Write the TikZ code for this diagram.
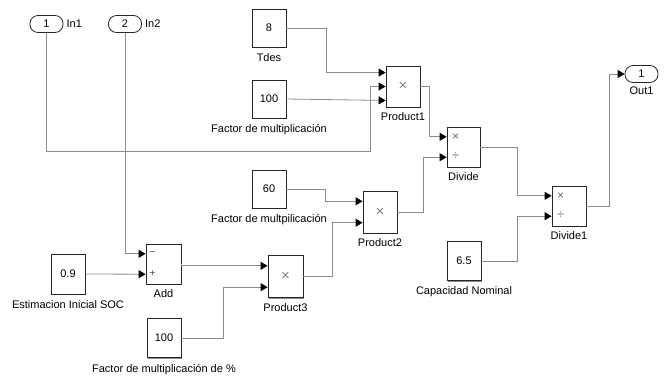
\documentclass[tikz,border=0pt]{standalone}
\usepackage{fontspec}
\setmainfont{Liberation Sans}
\usetikzlibrary{arrows.meta,calc,shadows}
\begin{document}
\begin{tikzpicture}[x=1pt,y=-1pt,
  blk/.style={draw=black!85,line width=0.8pt,fill=white,inner sep=0pt,
    drop shadow={shadow xshift=1.2pt,shadow yshift=-1.2pt,opacity=0.45,fill=black},
    font=\fontsize{11}{12}\selectfont},
  pill/.style={draw=black!85,line width=0.8pt,fill=white,rounded corners=8pt,
    minimum width=33pt,minimum height=17pt,inner sep=0pt,
    font=\fontsize{11}{12}\selectfont},
  lbl/.style={inner sep=0pt,font=\fontsize{11}{12}\selectfont},
  sym/.style={inner sep=0pt,text=black!60,font=\fontsize{12}{12}\selectfont},
  bigsym/.style={inner sep=0pt,text=black!50,font=\fontsize{15}{15}\selectfont},
  wire/.style={draw=black!45,line width=0.8pt,-{Triangle[length=7pt,width=8pt,color=black]}},
]
\useasboundingbox (0,0) rectangle (669,381);

% inports / outport
\node[pill] (in1) at (46.5,24) {1};
\node[lbl,anchor=west] (in1l) at ($(in1.east)+(3,0)$) {In1};
\node[pill] (in2) at (125,24) {2};
\node[lbl,anchor=west] (in2l) at ($(in2.east)+(3,0)$) {In2};
\node[pill] (out1) at (641.5,74) {1};
\node[lbl,anchor=north] (out1l) at ($(out1.south)+(0,4)$) {Out1};

% constants
\node[blk,minimum width=34pt,minimum height=38pt] (c8) at (269,28) {8};
\node[lbl,anchor=north] (c8l) at ($(c8.south)+(0,6)$) {Tdes};
\node[blk,minimum width=34pt,minimum height=38pt] (c100a) at (269,99) {100};
\node[lbl,anchor=north] (c100al) at ($(c100a.south)+(0,6)$) {Factor de multiplicación};
\node[blk,minimum width=34pt,minimum height=38pt] (c60) at (269,189) {60};
\node[lbl,anchor=north] (c60l) at ($(c60.south)+(0,6)$) {Factor de multpilicación};
\node[blk,minimum width=34pt,minimum height=40pt] (c09) at (68,274) {0.9};
\node[lbl,anchor=north] (c09l) at ($(c09.south)+(0,6)$) {Estimacion Inicial SOC};
\node[blk,minimum width=34pt,minimum height=39pt] (c100b) at (164,338) {100};
\node[lbl,anchor=north] (c100bl) at ($(c100b.south)+(0,6)$) {Factor de multiplicación de \%};
\node[blk,minimum width=34pt,minimum height=39pt] (c65) at (464,261) {6.5};
\node[lbl,anchor=north] (c65l) at ($(c65.south)+(0,5)$) {Capacidad Nominal};

% operation blocks
\node[blk,minimum width=34pt,minimum height=41pt] (p1) at (403,86.5) {};
\node[bigsym] (p1s) at (p1.center) {×};
\node[lbl,anchor=north] (p1l) at ($(p1.south)+(0,5)$) {Product1};

\node[blk,minimum width=33pt,minimum height=40pt] (dv) at (463.5,147) {};
\node[sym] (dvs1) at ($(dv.north west)+(9,10.5)$) {×};
\node[sym] (dvs2) at ($(dv.north west)+(9,30)$) {÷};
\node[lbl,anchor=north] (dvl) at ($(dv.south)+(0,5)$) {Divide};

\node[blk,minimum width=34pt,minimum height=40pt] (dv1) at (569,206) {};
\node[sym] (dv1s1) at ($(dv1.north west)+(9,10.5)$) {×};
\node[sym] (dv1s2) at ($(dv1.north west)+(9,30)$) {÷};
\node[lbl,anchor=north] (dv1l) at ($(dv1.south)+(0,5)$) {Divide1};

\node[blk,minimum width=34pt,minimum height=42pt] (p2) at (380,212) {};
\node[bigsym] (p2s) at (p2.center) {×};
\node[lbl,anchor=north] (p2l) at ($(p2.south)+(0,5)$) {Product2};

\node[blk,minimum width=35pt,minimum height=42pt] (p3) at (285.5,276.5) {};
\node[bigsym] (p3s) at (p3.center) {×};
\node[lbl,anchor=north] (p3l) at ($(p3.south)+(0,5)$) {Product3};

\node[blk,minimum width=35pt,minimum height=40pt] (add) at (163.5,264) {};
\node[sym,text=black!75,font=\fontsize{10}{10}\selectfont] (adds1) at ($(add.north west)+(7,10)$) {−};
\node[sym,text=black!75,font=\fontsize{10}{10}\selectfont] (adds2) at ($(add.north west)+(7,30)$) {+};
\node[lbl,anchor=north] (addl) at ($(add.south)+(0,5)$) {Add};

% input ports
\coordinate (p1i1) at ($(p1.north west)!1/6!(p1.south west)$);
\coordinate (p1i2) at ($(p1.north west)!1/2!(p1.south west)$);
\coordinate (p1i3) at ($(p1.north west)!5/6!(p1.south west)$);
\coordinate (dvi1) at ($(dv.north west)!1/4!(dv.south west)$);
\coordinate (dvi2) at ($(dv.north west)!3/4!(dv.south west)$);
\coordinate (dv1i1) at ($(dv1.north west)!1/4!(dv1.south west)$);
\coordinate (dv1i2) at ($(dv1.north west)!3/4!(dv1.south west)$);
\coordinate (p2i1) at ($(p2.north west)!1/4!(p2.south west)$);
\coordinate (p2i2) at ($(p2.north west)!3/4!(p2.south west)$);
\coordinate (p3i1) at ($(p3.north west)!1/4!(p3.south west)$);
\coordinate (p3i2) at ($(p3.north west)!3/4!(p3.south west)$);
\coordinate (addi1) at ($(add.north west)!1/4!(add.south west)$);
\coordinate (addi2) at ($(add.north west)!3/4!(add.south west)$);

% wires
\draw[wire] (c8.east) -- (326,28) |- (p1i1);
\draw[wire] (in1.south) -- (46.5,151) -- (370,151) |- (p1i2);
\draw[wire] (c100a.east) -- (p1i3);
\draw[wire] (p1.east) -- (429,86.5) |- (dvi1);
\draw[wire] (p2.east) -- (423,212) |- (dvi2);
\draw[wire] (dv.east) -- (517,147) |- (dv1i1);
\draw[wire] (c65.east) -- (517,261) |- (dv1i2);
\draw[wire] (dv1.east) -- (609,206) |- (out1.west);
\draw[wire] (c60.east) -- (325,189) |- (p2i1);
\draw[wire] (p3.east) -- (332,276.5) |- (p2i2);
\draw[wire] (add.east) -- (p3i1 -| add.east) -- (p3i1);
\draw[wire] (c100b.east) -- (223,338) |- (p3i2);
\draw[wire] (in2.south) |- (addi1);
\draw[wire] (c09.east) -- (addi2);
\end{tikzpicture}
\end{document}
